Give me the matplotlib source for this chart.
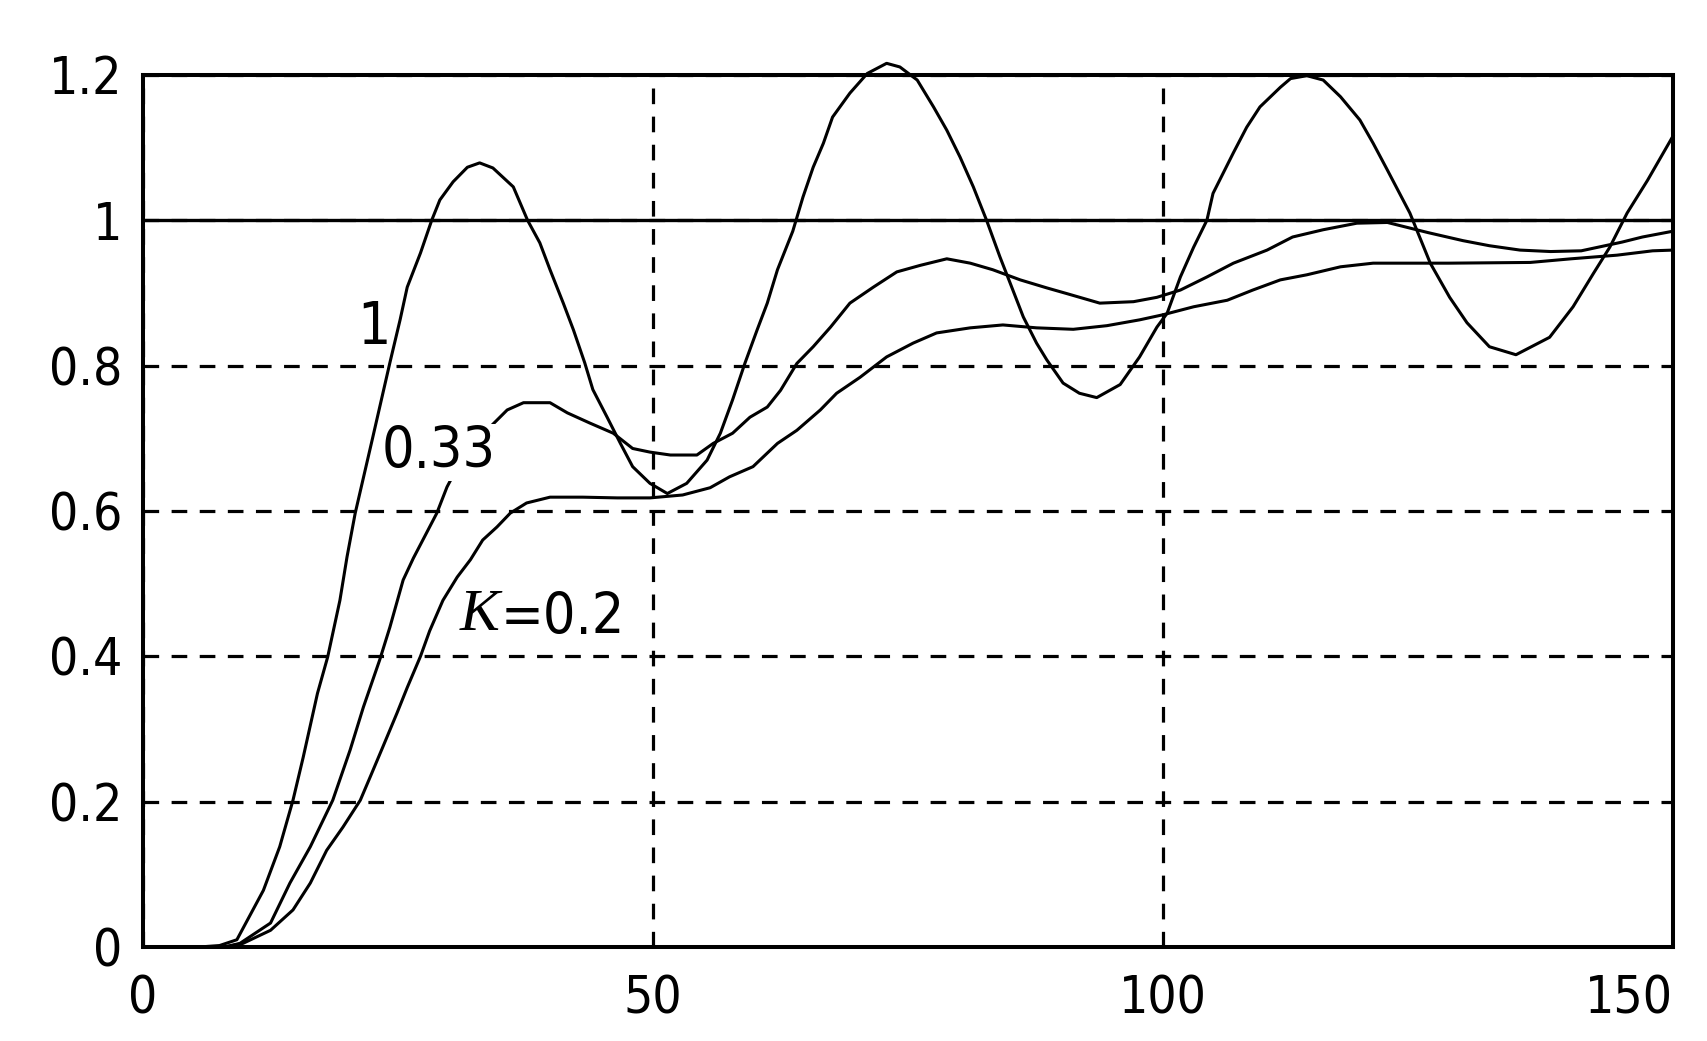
import numpy as np
import matplotlib.pyplot as plt
from matplotlib import font_manager

# step responses, one curve per gain K
t_k1 = [5.5, 7.5, 9.2, 11.8, 13.4, 14.7, 15.7, 17.1, 18.1, 19.3, 20.0, 20.8, 22.5, 24.2,
        25.2, 25.9, 27.2, 28.3, 29.1, 30.4, 31.8, 33.0, 34.3, 36.3, 37.7, 38.9, 39.9,
        41.2, 42.2, 43.3, 44.1, 45.5, 46.8, 48.0, 49.7, 51.4, 53.3, 55.3, 56.6, 57.8,
        59.0, 60.2, 61.2, 62.2, 63.7, 64.7, 65.7, 66.7, 67.6, 69.3, 71.0, 72.9, 74.2,
        75.9, 77.5, 78.8, 80.1, 81.4, 82.7, 84.0, 85.0, 86.3, 87.6, 88.6, 90.2, 91.8,
        93.5, 95.8, 97.7, 99.4, 100.4, 101.7, 103.0, 104.3, 104.9, 105.9, 106.9, 108.2,
        109.5, 111.5, 112.5, 114.1, 115.7, 117.4, 119.3, 120.6, 122.0, 124.2, 126.2,
        128.1, 129.8, 132.0, 134.6, 137.9, 140.2, 142.2, 143.8, 145.5, 147.5, 150.0]
y_k1 = [0.0, 0.002, 0.01, 0.078, 0.138, 0.202, 0.261, 0.349, 0.399, 0.477, 0.537, 0.597, 0.70, 0.804,
        0.863, 0.908, 0.955, 1.0, 1.028, 1.053, 1.073, 1.079, 1.072, 1.046, 1.0, 0.969, 0.932,
        0.886, 0.849, 0.804, 0.767, 0.729, 0.693, 0.661, 0.638, 0.624, 0.638, 0.67, 0.707, 0.753,
        0.803, 0.849, 0.886, 0.932, 0.985, 1.032, 1.073, 1.106, 1.142, 1.175, 1.202, 1.216, 1.211,
        1.193, 1.156, 1.124, 1.087, 1.046, 1.0, 0.95, 0.914, 0.867, 0.831, 0.808, 0.776, 0.762,
        0.756, 0.774, 0.812, 0.853, 0.872, 0.922, 0.963, 1.0, 1.037, 1.065, 1.093, 1.128,
        1.156, 1.183, 1.195, 1.199, 1.193, 1.170, 1.138, 1.106, 1.069, 1.01, 0.941,
        0.894, 0.859, 0.826, 0.815, 0.839, 0.881, 0.927, 0.963, 1.01, 1.055, 1.116]

t_k033 = [5.5, 8.0, 9.5, 12.5, 14.4, 16.4, 18.6, 20.3, 21.6, 23.2, 24.2, 25.5, 26.5, 27.8,
          28.8, 29.8, 31.0, 32.5, 34.2, 35.7, 37.3, 39.9, 41.6, 43.8, 46.1, 48.0, 49.7,
          51.7, 54.3, 55.9, 57.8, 59.5, 61.2, 62.5, 64.1, 65.7, 67.4, 69.3, 71.6, 73.9,
          76.2, 78.8, 81.1, 83.3, 86.0, 88.6, 90.6, 93.8, 97.1, 99.4, 101.7, 104.3, 106.9,
          110.2, 112.7, 115.7, 119.0, 122.0, 124.0, 126.0, 129.4, 132.0, 135.0, 138.0,
          141.0, 143.0, 145.0, 147.0, 150.0]
y_k033 = [0.0, 0.0, 0.005, 0.033, 0.088, 0.138, 0.202, 0.271, 0.33, 0.395, 0.44, 0.505, 0.535, 0.57,
          0.597, 0.633, 0.665, 0.695, 0.718, 0.739, 0.749, 0.749, 0.735, 0.721, 0.707, 0.686, 0.681,
          0.677, 0.677, 0.693, 0.707, 0.729, 0.743, 0.766, 0.803, 0.826, 0.853, 0.886, 0.908, 0.929,
          0.938, 0.947, 0.941, 0.932, 0.918, 0.907, 0.899, 0.886, 0.888, 0.894, 0.904, 0.922, 0.941,
          0.959, 0.977, 0.987, 0.996, 0.997, 0.99, 0.983, 0.972, 0.965, 0.959, 0.957,
          0.958, 0.964, 0.970, 0.977, 0.985]

t_k02 = [5.5, 8.0, 9.8, 12.5, 14.7, 16.4, 18.0, 19.6, 21.3, 22.3, 23.5, 24.9, 25.9, 27.2,
         28.1, 29.4, 30.8, 32.1, 33.3, 34.7, 36.0, 37.6, 39.9, 43.1, 46.5, 49.7, 52.9, 55.6,
         57.5, 59.8, 62.2, 64.1, 66.4, 68.0, 70.3, 72.9, 75.5, 77.8, 81.1, 84.3, 87.6, 91.2,
         94.5, 97.7, 100.0, 103.0, 106.3, 108.8, 111.5, 114.1, 117.4, 120.6, 128.0, 136.0,
         140.0, 144.5, 148.0, 150.0]
y_k02 = [0.0, 0.0, 0.005, 0.023, 0.051, 0.088, 0.133, 0.165, 0.202, 0.235, 0.275, 0.322, 0.357, 0.40,
         0.435, 0.477, 0.509, 0.533, 0.56, 0.578, 0.597, 0.611, 0.619, 0.619, 0.618, 0.618, 0.622, 0.632,
         0.647, 0.661, 0.693, 0.711, 0.739, 0.762, 0.784, 0.812, 0.831, 0.845, 0.852, 0.856, 0.852, 0.850,
         0.855, 0.863, 0.87, 0.881, 0.89, 0.904, 0.918, 0.925, 0.936, 0.941, 0.941, 0.942,
         0.947, 0.952, 0.958, 0.959]

setpoint = 1.0
x_ticks = [0, 50, 100, 150]
x_tick_labels = ['0', '50', '100', '150']
y_ticks = [0, 0.2, 0.4, 0.6, 0.8, 1.0, 1.2]
y_tick_labels = ['0', '0.2', '0.4', '0.6', '0.8', '1', '1.2']

# narrow digits as in the original; fall back to a smaller size if no condensed face
cond = font_manager.FontProperties(family='DejaVu Sans', stretch='condensed')
has_cond = 'Condensed' in font_manager.findfont(cond, fallback_to_default=False)
stretch = 'condensed' if has_cond else 'normal'
tick_fs = 37 if has_cond else 33
lab_fs = 41 if has_cond else 37

fig = plt.figure(figsize=(17.07, 10.41), dpi=100)
ax = fig.add_axes([0.0838, 0.0903, 0.8963, 0.8377])

lw = 2.2
for t, y in [(t_k1, y_k1), (t_k033, y_k033), (t_k02, y_k02)]:
    ax.plot(t, y, color='black', lw=lw, zorder=3, clip_on=False)
ax.axhline(setpoint, color='black', lw=2.4, zorder=3)

ax.set_xlim(0, 150)
ax.set_ylim(0, 1.2)
ax.set_xticks(x_ticks)
ax.set_yticks(y_ticks)
ax.set_xticklabels(x_tick_labels, family='DejaVu Sans', stretch=stretch, fontsize=tick_fs)
ax.set_yticklabels(y_tick_labels, family='DejaVu Sans', stretch=stretch, fontsize=tick_fs)
ax.get_xticklabels()[-1].set_horizontalalignment('right')
ax.tick_params(axis='both', length=0)
ax.tick_params(axis='x', pad=20)
ax.tick_params(axis='y', pad=15)

ax.grid(True, color='black', lw=2.3, linestyle=(0, (4.9, 3.9)))
ax.set_axisbelow(True)
for sp in ax.spines.values():
    sp.set_linewidth(2.9)
    sp.set_zorder(4)

# curve labels
ax.text(22.6, 0.853, '1', family='DejaVu Sans', stretch=stretch, fontsize=lab_fs + 1,
        ha='center', va='center', zorder=5)
ax.text(29.0, 0.680, '0.33', family='DejaVu Sans', stretch=stretch, fontsize=lab_fs,
        ha='center', va='center', zorder=5,
        bbox=dict(facecolor='white', edgecolor='none', pad=1))
ax.text(35.0, 0.455, 'K', family='Liberation Serif', style='italic', fontsize=lab_fs + 2,
        ha='right', va='center', zorder=5)
ax.text(35.1, 0.452, '=0.2', family='DejaVu Sans', stretch=stretch, fontsize=lab_fs,
        ha='left', va='center', zorder=5)

fig.savefig('out.png', dpi=100, facecolor='white')
